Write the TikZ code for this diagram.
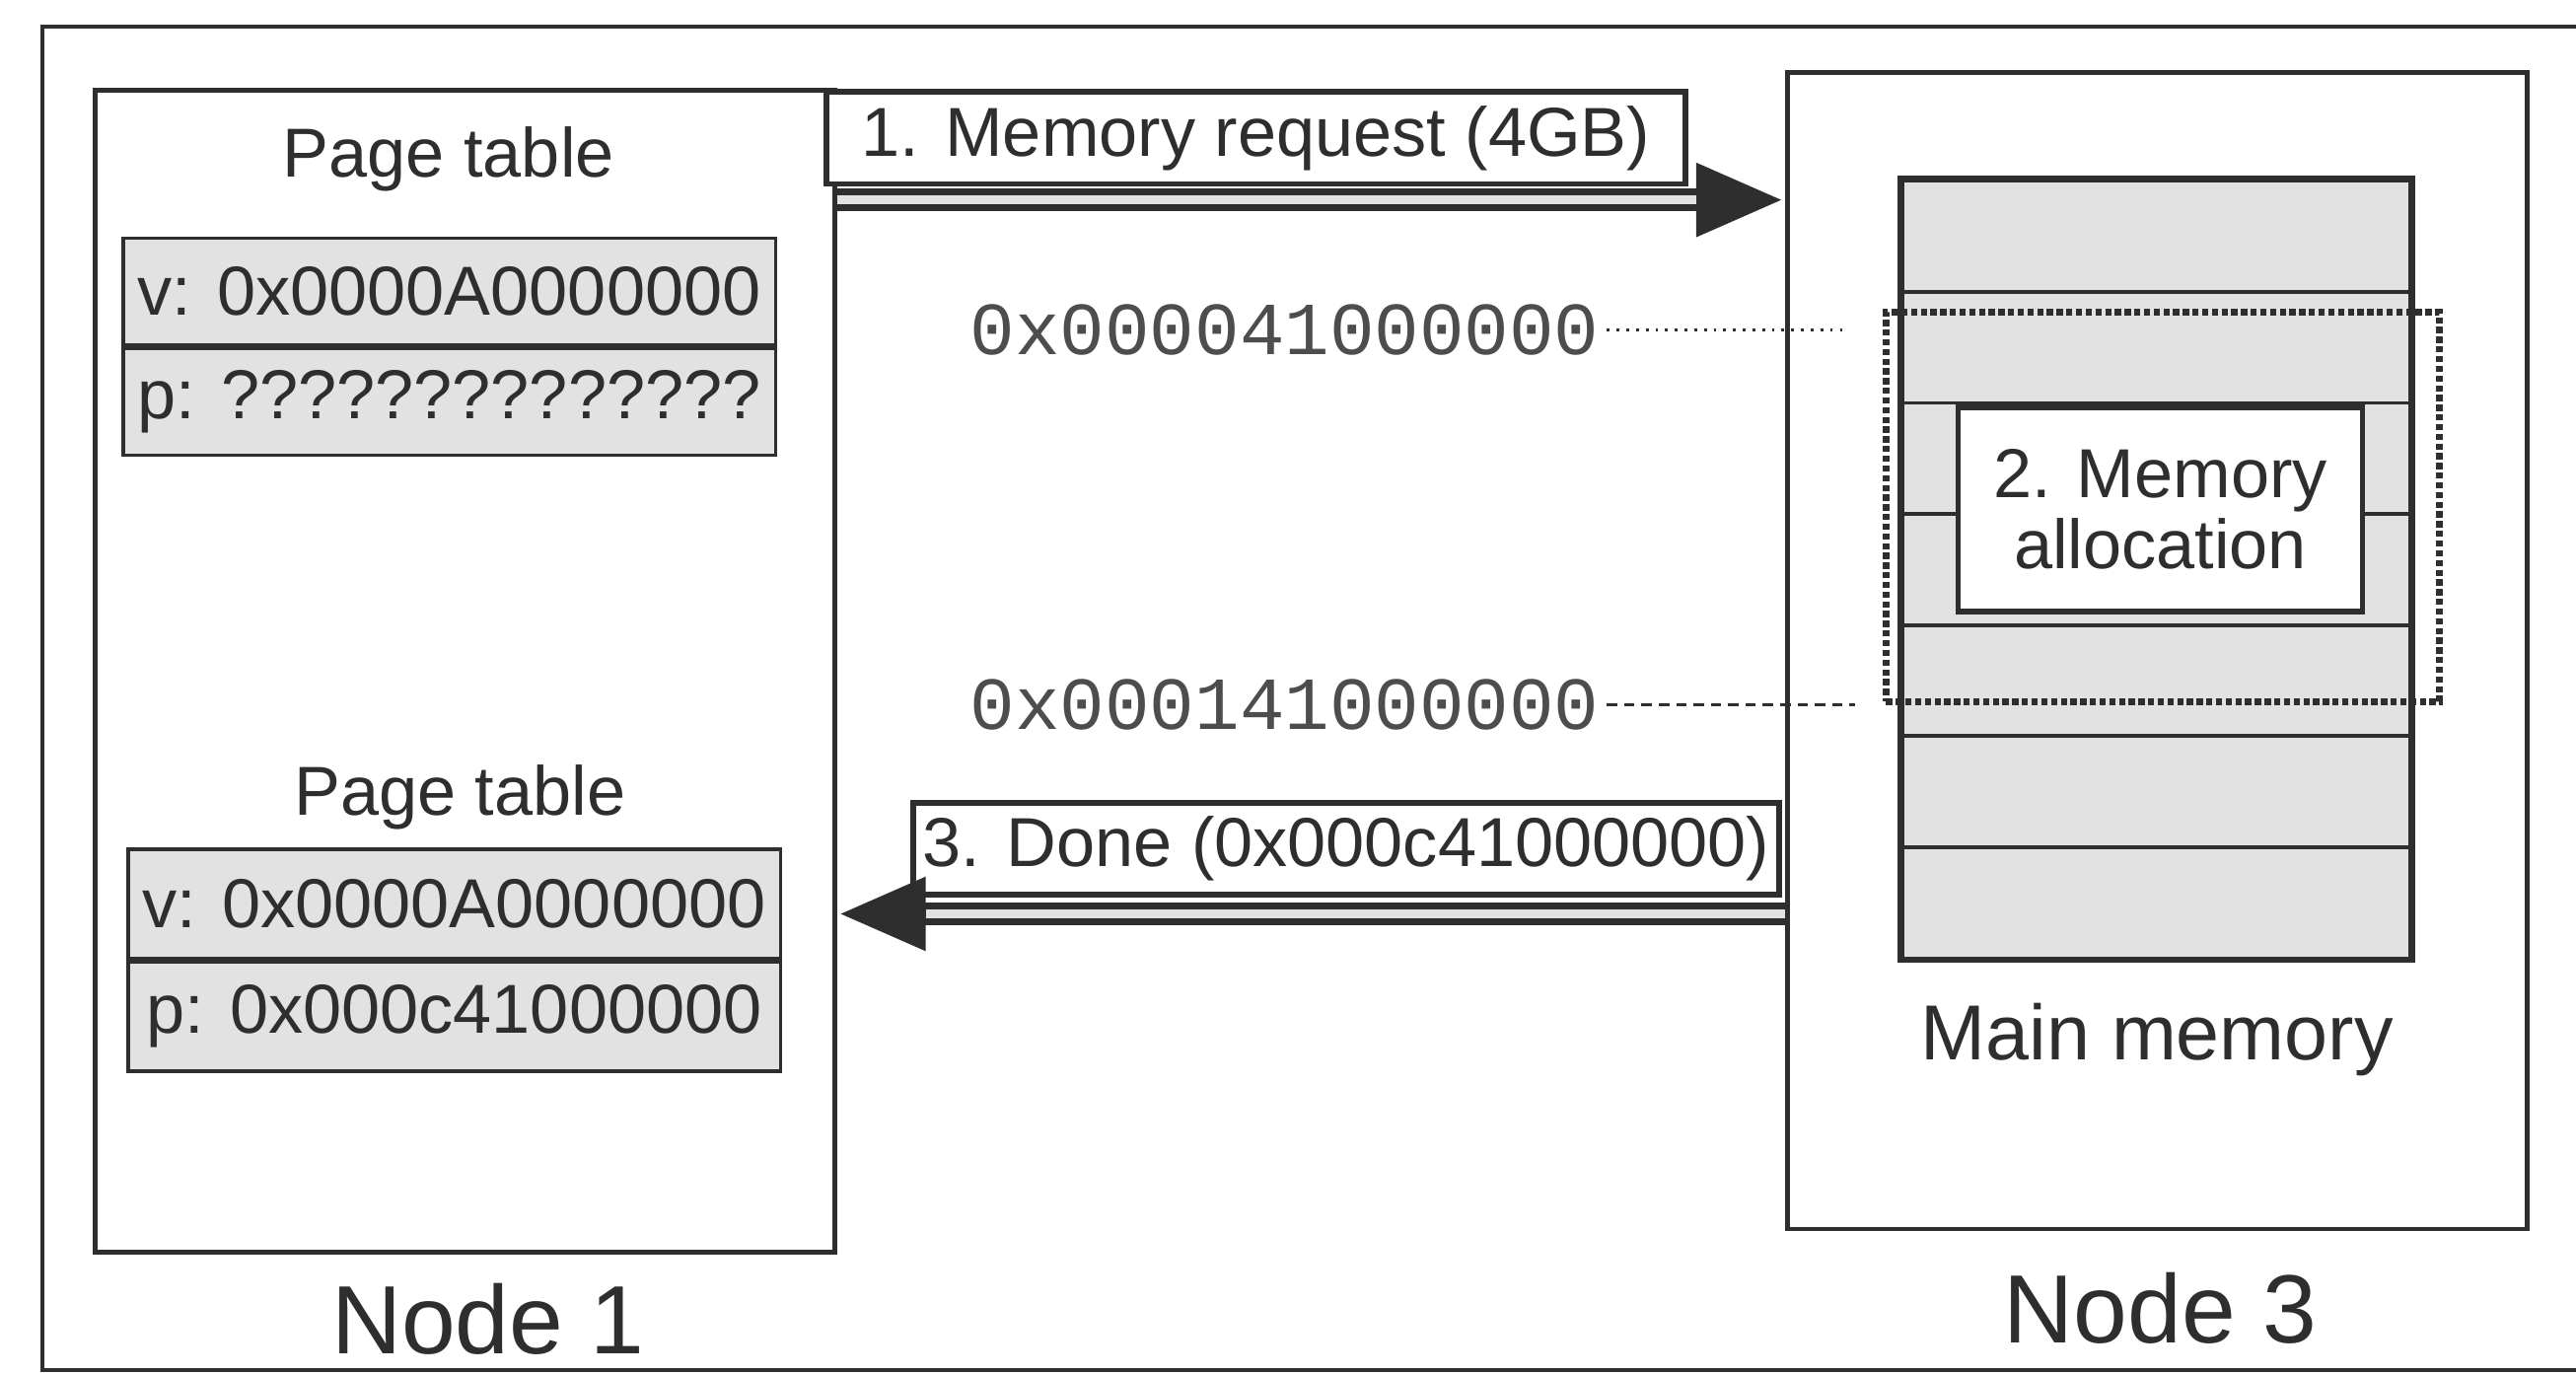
\documentclass[tikz,border=0pt]{standalone}
\usepackage{fontspec}
\setmainfont{Liberation Sans}
\setmonofont{Liberation Mono}
\usepackage{tikz}
\usetikzlibrary{positioning,arrows.meta,calc}
\definecolor{inkgray}{HTML}{2E2E2E}
\definecolor{dotfill}{HTML}{E2E2E2}

\begin{document}
\begin{tikzpicture}[x=0.16658mm, y=-0.16658mm, inkgray,
    lbl/.style={font=\fontsize{20}{24}\selectfont, text=inkgray},
    biglbl/.style={font=\fontsize{28}{32}\selectfont, text=inkgray},
    addr/.style={font=\ttfamily\fontsize{21.6}{24}\selectfont, text=inkgray!85, inner sep=2pt},
    nodebox/.style={draw, line width=1.4pt, inner sep=0pt},
    cell/.style={draw, line width=1pt, fill=dotfill, inner sep=0pt,
                 minimum width=66.13mm, lbl},
    memrow/.style={draw, line width=1.1pt, fill=dotfill, inner sep=0pt,
                   minimum width=51.47mm, minimum height=11.26mm},
    msgbox/.style={draw, line width=1.6pt, fill=white, inner sep=0pt, lbl},
    allocline/.style={draw, line width=2pt, dash pattern=on 1.8pt off 1pt},
    shaftout/.style={line width=2.3mm, -{Triangle[length=9mm,width=6.8mm]}},
    shaftin/.style={line width=0.9mm, dotfill, shorten >=9mm}]
  \useasboundingbox (0,0) rectangle (1568,836);

  % outer frame (open on the right)
  \draw[line width=1.2pt] (1575,16) -- (26,16) -- (26,834) -- (1575,834);

  % node 1 with its page table before and after
  \node[nodebox, minimum width=74.96mm, minimum height=117.77mm] (node1) at (283,408.5) {};
  \node[biglbl] (node1lbl) at (297,803) {Node 1};
  \node[lbl] (pt1) at (273,97) {Page table};
  \node[cell, minimum height=10.83mm] (v1) at (273.5,177.5) {v: 0x0000A0000000};
  \node[cell, minimum height=10.83mm, below=0pt of v1] (p1) {p: ??????????????};
  \node[lbl] (pt2) at (280,485) {Page table};
  \node[cell, minimum height=11.08mm] (v2) at (276.5,550) {v: 0x0000A0000000};
  \node[cell, minimum height=11.08mm, below=0pt of v2] (p2) {p: 0x000c41000000};

  % node 3 and its main memory
  \node[nodebox, minimum width=74.96mm, minimum height=117.27mm] (node3) at (1313,396) {};
  \node[biglbl] (node3lbl) at (1315,796) {Node 3};
  \foreach \i in {1,...,7}
    \node[memrow] (row\i) at (1312.5,{76.2+67.6*\i}) {};
  \draw[line width=1.7pt] (row1.north west) rectangle (row7.south east);
  \node[allocline, minimum width=56.14mm, minimum height=39.48mm] (allocreg) at (1316.5,308.5) {};
  \node[msgbox, align=center, font=\fontsize{20}{20.5}\selectfont,
        minimum width=40.98mm, minimum height=20.66mm] (alloc) at (1315,310) {2. Memory\\allocation};
  \node[lbl, font=\fontsize{22.5}{26}\selectfont] (memlbl) at (1313,633) {Main memory};

  % physical addresses
  \node[addr] (addr1) at (782,201) {0x000041000000};
  \node[addr] (addr2) at (782,429) {0x000141000000};
  \draw[line width=0.8pt, dotted, shorten >=5.66mm] (addr1.east) -- (addr1.east -| row2.west);
  \draw[line width=0.7pt, densely dashed, shorten >=4.66mm] (addr2.east) -- (addr2.east -| row5.west);

  % messages
  \node[msgbox, minimum width=87.12mm, minimum height=9.33mm] (req) at (764.5,84) {1. Memory request (4GB)};
  \node[msgbox, minimum width=87.79mm, minimum height=9.33mm] (done) at (819.5,516.5) {3. Done (0x000c41000000)};

  \coordinate (reqA) at ($(req.south -| node1.east)+(0,8)$);
  \coordinate (reqB) at ($(req.south -| node3.west)+(0,8)$);
  \draw[shaftout] (reqA) -- (reqB);
  \draw[shaftin] (reqA) -- (reqB);

  \coordinate (doneA) at ($(done.south -| node3.west)+(0,10)$);
  \coordinate (doneB) at ($(done.south -| node1.east)+(0,10)$);
  \draw[shaftout] (doneA) -- (doneB);
  \draw[shaftin] (doneA) -- (doneB);
\end{tikzpicture}
\end{document}
